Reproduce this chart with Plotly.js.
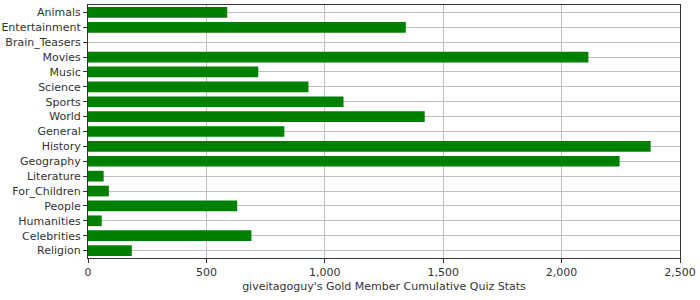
<!DOCTYPE html>
<html>
<head>
<meta charset="utf-8">
<script src="https://cdn.plot.ly/plotly-3.0.1.min.js"></script>
<style>html,body{margin:0;padding:0;background:#fff;}#chart{width:700px;height:300px;}</style>
</head>
<body>
<div id="chart"></div>
<script>
const categories = ["Animals","Entertainment","Brain_Teasers","Movies","Music","Science","Sports","World","General","History","Geography","Literature","For_Children","People","Humanities","Celebrities","Religion"];
const values = [588, 1342, 0, 2113, 719, 931, 1079, 1422, 829, 2376, 2245, 66, 88, 630, 58, 690, 185];
const xTitle = "giveitagoguy's Gold Member Cumulative Quiz Stats";

const trace = {
  type: 'bar',
  orientation: 'h',
  x: values,
  y: categories,
  marker: {color: '#008000', line: {width: 0}},
  width: 0.72,
  hoverinfo: 'x+y'
};

const layout = {
  width: 700, height: 300,
  margin: {l: 88, r: 20, t: 5, b: 41.5, pad: 0},
  paper_bgcolor: '#ffffff',
  plot_bgcolor: '#ffffff',
  showlegend: false,
  font: {family: 'DejaVu Sans, sans-serif', size: 11, color: '#333333'},
  xaxis: {
    range: [0, 2500],
    dtick: 500,
    tickformat: ',d',
    showgrid: true, gridcolor: '#c0c0c0', gridwidth: 1,
    zeroline: false,
    showline: true, linecolor: '#333333', linewidth: 1, mirror: true,
    ticks: 'outside', ticklen: 4, tickcolor: '#333333',
    tickfont: {size: 11, color: '#333333'},
    title: {text: xTitle, font: {size: 11, color: '#333333'}, standoff: 4},
    fixedrange: true
  },
  yaxis: {
    type: 'category',
    autorange: 'reversed',
    showgrid: true, gridcolor: '#c0c0c0', gridwidth: 1,
    zeroline: false,
    showline: true, linecolor: '#333333', linewidth: 1, mirror: true,
    ticks: 'outside', ticklen: 4, tickcolor: '#333333',
    tickfont: {size: 11, color: '#333333'},
    fixedrange: true
  }
};

Plotly.newPlot('chart', [trace], layout, {displayModeBar: false, staticPlot: true});
</script>
</body>
</html>
